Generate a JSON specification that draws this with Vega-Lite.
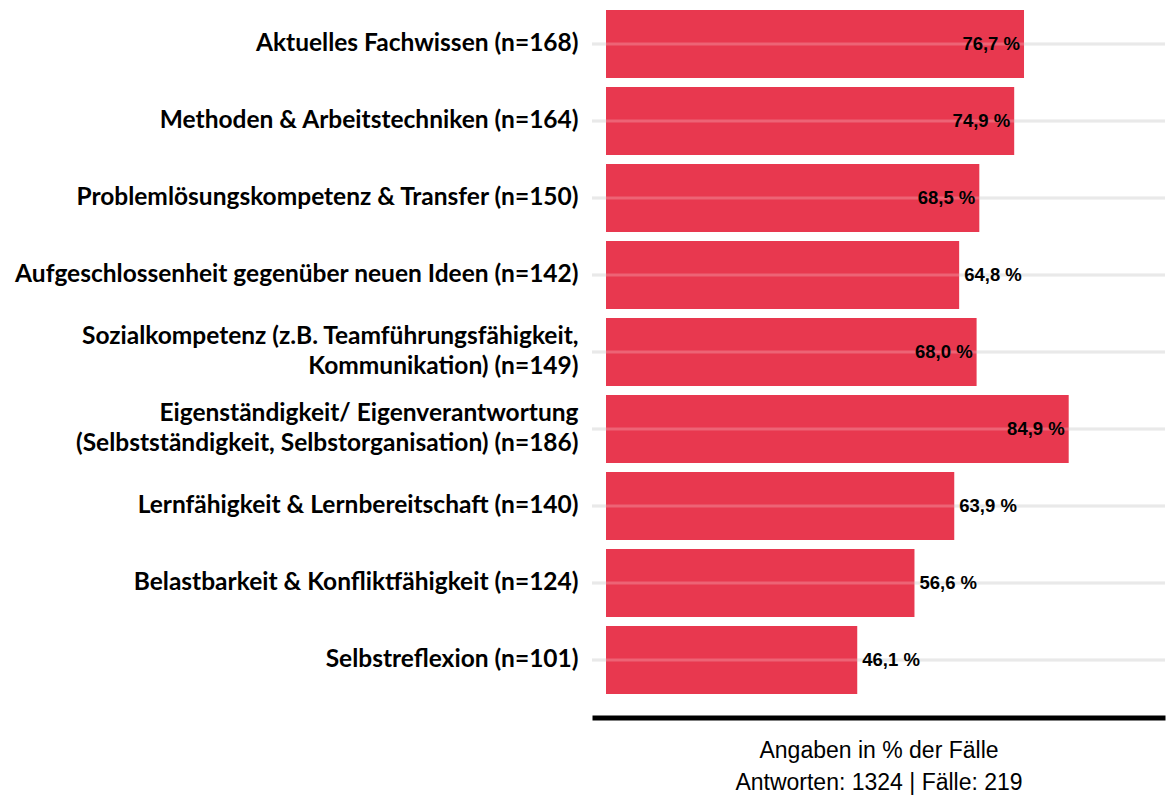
{
  "$schema": "https://vega.github.io/schema/vega-lite/v6.json",
  "autosize": "none",
  "width": 573,
  "height": 693,
  "padding": {"left": 592, "top": 5.5, "right": 8, "bottom": 97.5},
  "background": "white",
  "config": {"view": {"stroke": null}},
  "data": {
    "values": [
      {"item": "Aktuelles Fachwissen (n=168)", "pct": 76.7, "label": "76,7 %"},
      {"item": "Methoden & Arbeitstechniken (n=164)", "pct": 74.9, "label": "74,9 %"},
      {"item": "Problemlösungskompetenz & Transfer (n=150)", "pct": 68.5, "label": "68,5 %"},
      {"item": "Aufgeschlossenheit gegenüber neuen Ideen (n=142)", "pct": 64.8, "label": "64,8 %"},
      {"item": "Sozialkompetenz (z.B. Teamführungsfähigkeit,\nKommunikation) (n=149)", "pct": 68.0, "label": "68,0 %"},
      {"item": "Eigenständigkeit/ Eigenverantwortung\n(Selbstständigkeit, Selbstorganisation) (n=186)", "pct": 84.9, "label": "84,9 %"},
      {"item": "Lernfähigkeit & Lernbereitschaft (n=140)", "pct": 63.9, "label": "63,9 %"},
      {"item": "Belastbarkeit & Konfliktfähigkeit (n=124)", "pct": 56.6, "label": "56,6 %"},
      {"item": "Selbstreflexion (n=101)", "pct": 46.1, "label": "46,1 %"}
    ]
  },
  "encoding": {
    "y": {
      "field": "item",
      "type": "nominal",
      "sort": null,
      "scale": {"paddingInner": 0.117, "paddingOuter": 0.0585},
      "axis": {
        "title": null,
        "ticks": false,
        "domain": false,
        "grid": false,
        "labelFont": "Lato",
        "labelFontWeight": "bold",
        "labelFontSize": 24.5,
        "labelColor": "black",
        "labelPadding": 14,
        "labelLimit": 700,
        "labelLineHeight": 30,
        "labelOffset": {"condition": {"test": "indexof(datum.value, '\\n') >= 0", "value": -15}, "value": 0},
        "labelExpr": "split(datum.label, '\\n')"
      }
    }
  },
  "layer": [
    {
      "mark": {"type": "rule", "color": "#e3e3e3", "strokeWidth": 3},
      "encoding": {}
    },
    {
      "mark": {"type": "bar", "color": "#e8384f"},
      "encoding": {
        "x": {
          "field": "pct",
          "type": "quantitative",
          "scale": {"domain": [-2.57, 102.57], "nice": false, "zero": false},
          "axis": {
            "title": ["Angaben in % der Fälle", "Antworten: 1324 | Fälle: 219"],
            "titleFont": "Liberation Sans",
            "titleFontSize": 23,
            "titleFontWeight": "normal",
            "titleColor": "black",
            "titleLineHeight": 32,
            "titlePadding": 22,
            "labels": false,
            "ticks": false,
            "grid": false,
            "domain": true,
            "domainColor": "black",
            "domainWidth": 5,
            "offset": 19
          }
        },
        "x2": {"datum": 0}
      }
    },
    {
      "mark": {"type": "rule", "color": "white", "opacity": 0.22, "strokeWidth": 3},
      "encoding": {}
    },
    {
      "transform": [{"filter": "datum.pct >= 66"}],
      "mark": {"type": "text", "align": "right", "baseline": "middle", "dx": -4, "font": "Liberation Sans", "fontWeight": "bold", "fontSize": 18.5, "color": "black"},
      "encoding": {
        "x": {"field": "pct", "type": "quantitative"},
        "text": {"field": "label"}
      }
    },
    {
      "transform": [{"filter": "datum.pct < 66"}],
      "mark": {"type": "text", "align": "left", "baseline": "middle", "dx": 5, "font": "Liberation Sans", "fontWeight": "bold", "fontSize": 18.5, "color": "black"},
      "encoding": {
        "x": {"field": "pct", "type": "quantitative"},
        "text": {"field": "label"}
      }
    }
  ]
}
